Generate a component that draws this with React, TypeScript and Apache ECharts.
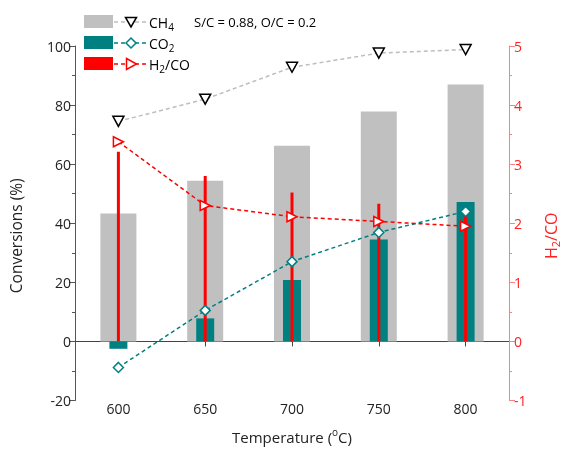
import React, { useEffect, useRef } from "react";
import * as echarts from "echarts";

const categories = ["600", "650", "700", "750", "800"];
const ch4Bars = [43.3, 54.4, 66.2, 77.8, 87.0];
const co2Bars = [-2.5, 7.8, 20.8, 34.5, 47.2];
const h2coBars = [3.21, 2.8, 2.52, 2.33, 2.19];
const ch4Line = [74.5, 82.0, 92.8, 97.6, 98.8];
const co2Line = [-8.8, 10.5, 27.0, 36.9, 44.0];
const h2coLine = [3.38, 2.3, 2.11, 2.03, 1.95];
const leftTicks = { min: -20, max: 100, interval: 20 };
const rightTicks = { min: -1, max: 5, interval: 1 };

const FONT = "'Open Sans', 'Noto Sans', sans-serif";
const GRAY = "#c0c0c0";
const TEAL = "#008080";
const RED = "#ff0000";

export default function App() {
  const ref = useRef<HTMLDivElement>(null);
  useEffect(() => {
    if (!ref.current) return;
    const chart = echarts.init(ref.current, undefined, { renderer: "svg" });
    const hiddenX = () => ({
      type: "category",
      data: categories,
      show: false,
      gridIndex: 0,
    });
    const legendRow = (y: number, color: string, lineColor: string, marker: any, text: string) => [
      { type: "rect", shape: { x: 84, y: y - 7, width: 29, height: 13 }, style: { fill: color } },
      {
        type: "line",
        shape: { x1: 114, y1: y, x2: 146, y2: y },
        style: { stroke: lineColor, lineWidth: 1.5, lineDash: [4, 3] },
      },
      marker,
      {
        type: "text",
        x: 149,
        y: y,
        style: {
          text,
          fill: "#000",
          font: `14px ${FONT}`,
          verticalAlign: "middle",
          rich: {
            n: { fontSize: 14, fontFamily: FONT, lineHeight: 20, fill: "#000", verticalAlign: "middle" },
            s: { fontSize: 10, fontFamily: FONT, lineHeight: 10, fill: "#000", verticalAlign: "bottom" },
          },
        },
      },
    ];
    const option: any = {
      animation: false,
      textStyle: { fontFamily: FONT },
      grid: { left: 73, right: 55, top: 46, bottom: 44, containLabel: false },
      xAxis: [
        {
          type: "category",
          data: categories,
          position: "bottom",
          axisLine: { show: false, onZero: false },
          axisTick: { show: false },
          axisLabel: { fontSize: 14, color: "#222", margin: 1, fontFamily: FONT },
          name: "{n|Temperature (}{s|o}{n|C)}",
          nameLocation: "middle",
          nameGap: 26,
          nameTextStyle: {
            rich: {
              n: { fontSize: 15, fontFamily: FONT, color: "#222", lineHeight: 20, verticalAlign: "middle" },
              s: { fontSize: 10, fontFamily: FONT, color: "#222", lineHeight: 10, verticalAlign: "top" },
            },
          },
          splitLine: { show: false },
        },
        {
          type: "category",
          data: categories,
          position: "bottom",
          axisLine: { show: true, onZero: true, onZeroAxisIndex: 0, lineStyle: { color: "#444", width: 1 } },
          axisTick: { show: true, alignWithLabel: true, length: 5, inside: false, lineStyle: { color: "#444" } },
          axisLabel: { show: false },
          splitLine: { show: false },
        },
        hiddenX(),
        hiddenX(),
      ],
      yAxis: [
        {
          type: "value",
          position: "left",
          min: leftTicks.min,
          max: leftTicks.max,
          interval: leftTicks.interval,
          name: "Conversions (%)",
          nameLocation: "middle",
          nameGap: 51,
          nameRotate: 90,
          nameTextStyle: { fontSize: 15.5, color: "#222", fontFamily: FONT, padding: [0, 25, 0, 0] },
          axisLine: { show: true, lineStyle: { color: "#555" } },
          axisTick: { show: true, length: 6, lineStyle: { color: "#555" } },
          minorTick: { show: true, splitNumber: 2, length: 3, lineStyle: { color: "#555" } },
          axisLabel: { fontSize: 14, color: "#222", margin: 4, fontFamily: FONT },
          splitLine: { show: false },
        },
        {
          type: "value",
          position: "right",
          min: rightTicks.min,
          max: rightTicks.max,
          interval: rightTicks.interval,
          name: "{n|H}{s|2}{n|/CO}",
          nameLocation: "middle",
          nameGap: 32,
          nameRotate: 90,
          nameTextStyle: {
            padding: [0, 25, 0, 0],
            rich: {
              n: { fontSize: 16, fontFamily: FONT, color: "#ff2020", lineHeight: 20, verticalAlign: "middle" },
              s: { fontSize: 11, fontFamily: FONT, color: "#ff2020", lineHeight: 11, verticalAlign: "bottom" },
            },
          },
          axisLine: { show: true, lineStyle: { color: "#ff8080" } },
          axisTick: { show: true, length: 6, lineStyle: { color: "#ff8080" } },
          minorTick: { show: true, splitNumber: 2, length: 3, lineStyle: { color: "#ff8080" } },
          axisLabel: { fontSize: 14, color: "#ff2020", margin: 5, fontFamily: FONT },
          splitLine: { show: false },
        },
      ],
      series: [
        {
          type: "bar",
          name: "CH4 bar",
          xAxisIndex: 0,
          yAxisIndex: 0,
          data: ch4Bars,
          barWidth: 36,
          itemStyle: { color: GRAY },
          z: 1,
        },
        {
          type: "bar",
          name: "CO2 bar",
          xAxisIndex: 2,
          yAxisIndex: 0,
          data: co2Bars,
          barWidth: 18,
          itemStyle: { color: TEAL },
          z: 2,
        },
        {
          type: "bar",
          name: "H2/CO bar",
          xAxisIndex: 3,
          yAxisIndex: 1,
          data: h2coBars,
          barWidth: 3,
          itemStyle: { color: RED },
          z: 3,
        },
        {
          type: "line",
          name: "CH4",
          xAxisIndex: 0,
          yAxisIndex: 0,
          data: ch4Line,
          symbol: "triangle",
          symbolRotate: 180,
          symbolSize: [11, 10],
          lineStyle: { color: "#bdbdbd", width: 1.5, type: [4, 3] },
          itemStyle: { color: "#fff", borderColor: "#000", borderWidth: 1.5 },
          z: 5,
        },
        {
          type: "line",
          name: "CO2",
          xAxisIndex: 0,
          yAxisIndex: 0,
          data: co2Line,
          symbol: "diamond",
          symbolSize: 10,
          lineStyle: { color: TEAL, width: 1.5, type: [4, 3] },
          itemStyle: { color: "#fff", borderColor: TEAL, borderWidth: 1.5 },
          z: 5,
        },
        {
          type: "line",
          name: "H2/CO",
          xAxisIndex: 0,
          yAxisIndex: 1,
          data: h2coLine,
          symbol: "triangle",
          symbolRotate: -90,
          symbolSize: [10, 10],
          lineStyle: { color: RED, width: 1.5, type: [4, 3] },
          itemStyle: { color: "#fff", borderColor: RED, borderWidth: 1.5 },
          z: 5,
        },
      ],
      graphic: [
        ...legendRow(
          22,
          GRAY,
          "#bdbdbd",
          {
            type: "polygon",
            shape: { points: [[125.5, 17.5], [136.5, 17.5], [131, 27]] },
            style: { fill: "#fff", stroke: "#000", lineWidth: 1.5 },
          },
          "{n|CH}{s|4}"
        ),
        ...legendRow(
          43,
          TEAL,
          TEAL,
          {
            type: "polygon",
            shape: { points: [[131, 38], [136, 43], [131, 48], [126, 43]] },
            style: { fill: "#fff", stroke: TEAL, lineWidth: 1.5 },
          },
          "{n|CO}{s|2}"
        ),
        ...legendRow(
          64,
          RED,
          RED,
          {
            type: "polygon",
            shape: { points: [[126.5, 58.5], [136.5, 64], [126.5, 69.5]] },
            style: { fill: "#fff", stroke: RED, lineWidth: 1.5 },
          },
          "{n|H}{s|2}{n|/CO}"
        ),
        {
          type: "text",
          x: 194,
          y: 22,
          style: {
            text: "S/C = 0.88, O/C = 0.2",
            font: `500 13px ${FONT}`,
            fill: "#000",
            verticalAlign: "middle",
          },
        },
      ],
    };
    chart.setOption(option);
    return () => chart.dispose();
  }, []);
  return (
    <div
      ref={ref}
      style={{ position: "fixed", left: 0, top: 0, width: 569, height: 449 }}
    />
  );
}
